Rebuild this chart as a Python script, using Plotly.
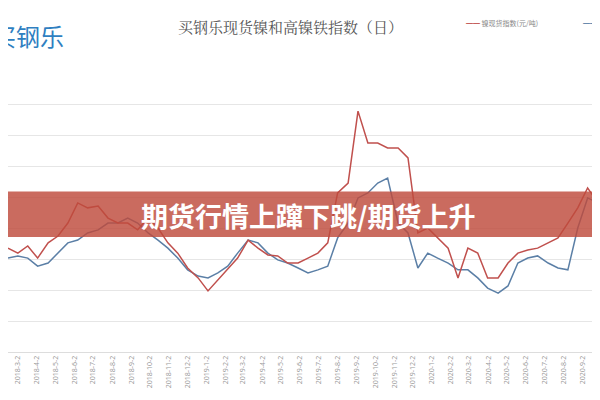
import plotly.graph_objects as go
import pandas as pd

day_offsets = [-16,0,16,32,49,65,81,97,113,130,146,162,178,194,211,227,243,259,275,292,308,324,340,356,373,389,405,421,437,454,470,486,502,518,535,551,567,583,599,616,632,648,664,680,697,713,729,745,761,778,794,810,826,842,859,875,891,907,923,940,956]
nickel_spot = [93.5,91.9,94.2,90.3,95.2,97.4,101.6,108.1,106.5,107.1,103.2,101.6,101.6,99.4,103.2,100,95.2,91.9,87.1,83.9,79.7,83.2,86.5,90.3,96.1,93.5,91.3,91,88.7,88.7,90.3,91.9,95.2,111.3,114.5,137.7,127.4,127.4,125.8,125.8,122.6,98.4,100,96.8,93.5,83.9,93.5,91.9,83.9,83.9,88.7,91.9,92.9,93.5,95.2,96.8,101.6,106.5,112.9,108.1,106.5]
high_ni_iron = [90.3,91,90.3,87.7,88.7,91.9,95.2,96.1,98.4,99.4,101.6,101.6,103.2,101.6,98.4,96.1,93.5,90.3,86.5,84.5,83.9,85.5,87.7,91.9,96.1,95.2,91.9,89.7,88.7,87.1,85.5,86.5,87.7,96.8,101.6,109.7,111.3,114.5,116.1,101.6,98.4,87.1,91.9,90.3,88.7,86.5,86.5,83.9,80.6,79,81.3,88.7,90.3,91,88.7,87.1,86.5,100,109.7,108.1,106.5]
tick_labels = [f"{y}-{m}-2" for y in (2018, 2019, 2020) for m in range(1, 13)][2:34]

base = pd.Timestamp("2018-03-02")
dates = [base + pd.Timedelta(days=d) for d in day_offsets]
tick_vals = [pd.Timestamp(t) for t in tick_labels]

fig = go.Figure()
fig.add_trace(go.Scatter(x=dates, y=high_ni_iron, mode="lines", line=dict(color="#5b7fa6", width=1.5)))
fig.add_trace(go.Scatter(x=dates, y=nickel_spot, mode="lines", line=dict(color="#c0504d", width=1.5)))

fig.update_layout(
    width=600, height=400, showlegend=False,
    margin=dict(l=0, r=0, t=65, b=56),
    paper_bgcolor="white", plot_bgcolor="white",
    xaxis=dict(range=[dates[0], dates[-1]], tickvals=tick_vals, ticktext=tick_labels,
               tickangle=-90, tickfont=dict(size=7, color="#999"), showgrid=False,
               showline=True, linecolor="#ddd"),
    yaxis=dict(range=[60, 150], dtick=10, showticklabels=False, gridcolor="#e6e6e6", zeroline=False),
    shapes=[dict(type="rect", xref="paper", yref="paper", x0=0, x1=1, y0=0.412, y1=0.575,
                 fillcolor="rgba(190,75,60,0.82)", line=dict(width=0), layer="above")],
    annotations=[
        dict(text="期货行情上蹿下跳/期货上升", x=0.5, y=0.49, xref="paper", yref="paper", showarrow=False,
             font=dict(size=27, color="white", family="Noto Sans CJK SC", weight="bold")),
        dict(text="买钢乐现货镍和高镍铁指数（日）", x=0.47, y=1.21, xref="paper", yref="paper", showarrow=False,
             font=dict(size=15, color="#555", family="Noto Serif CJK SC, Noto Sans CJK SC")),
        dict(text="买钢乐", x=-0.03, y=1.205, xref="paper", yref="paper", xanchor="left", showarrow=False,
             font=dict(size=24, color="#2f7fc1", family="Noto Sans CJK SC")),
        dict(text="<span style='color:#c0504d'>━━</span> 镍现货指数(元/吨)", x=0.76, y=1.205, xref="paper", yref="paper",
             xanchor="left", showarrow=False, font=dict(size=7, color="#888", family="Noto Sans CJK SC")),
        dict(text="<span style='color:#5b7fa6'>━━</span> 高镍", x=0.955, y=1.205, xref="paper", yref="paper",
             xanchor="left", showarrow=False, font=dict(size=7, color="#888", family="Noto Sans CJK SC")),
    ],
)
fig.write_html("out.html")
